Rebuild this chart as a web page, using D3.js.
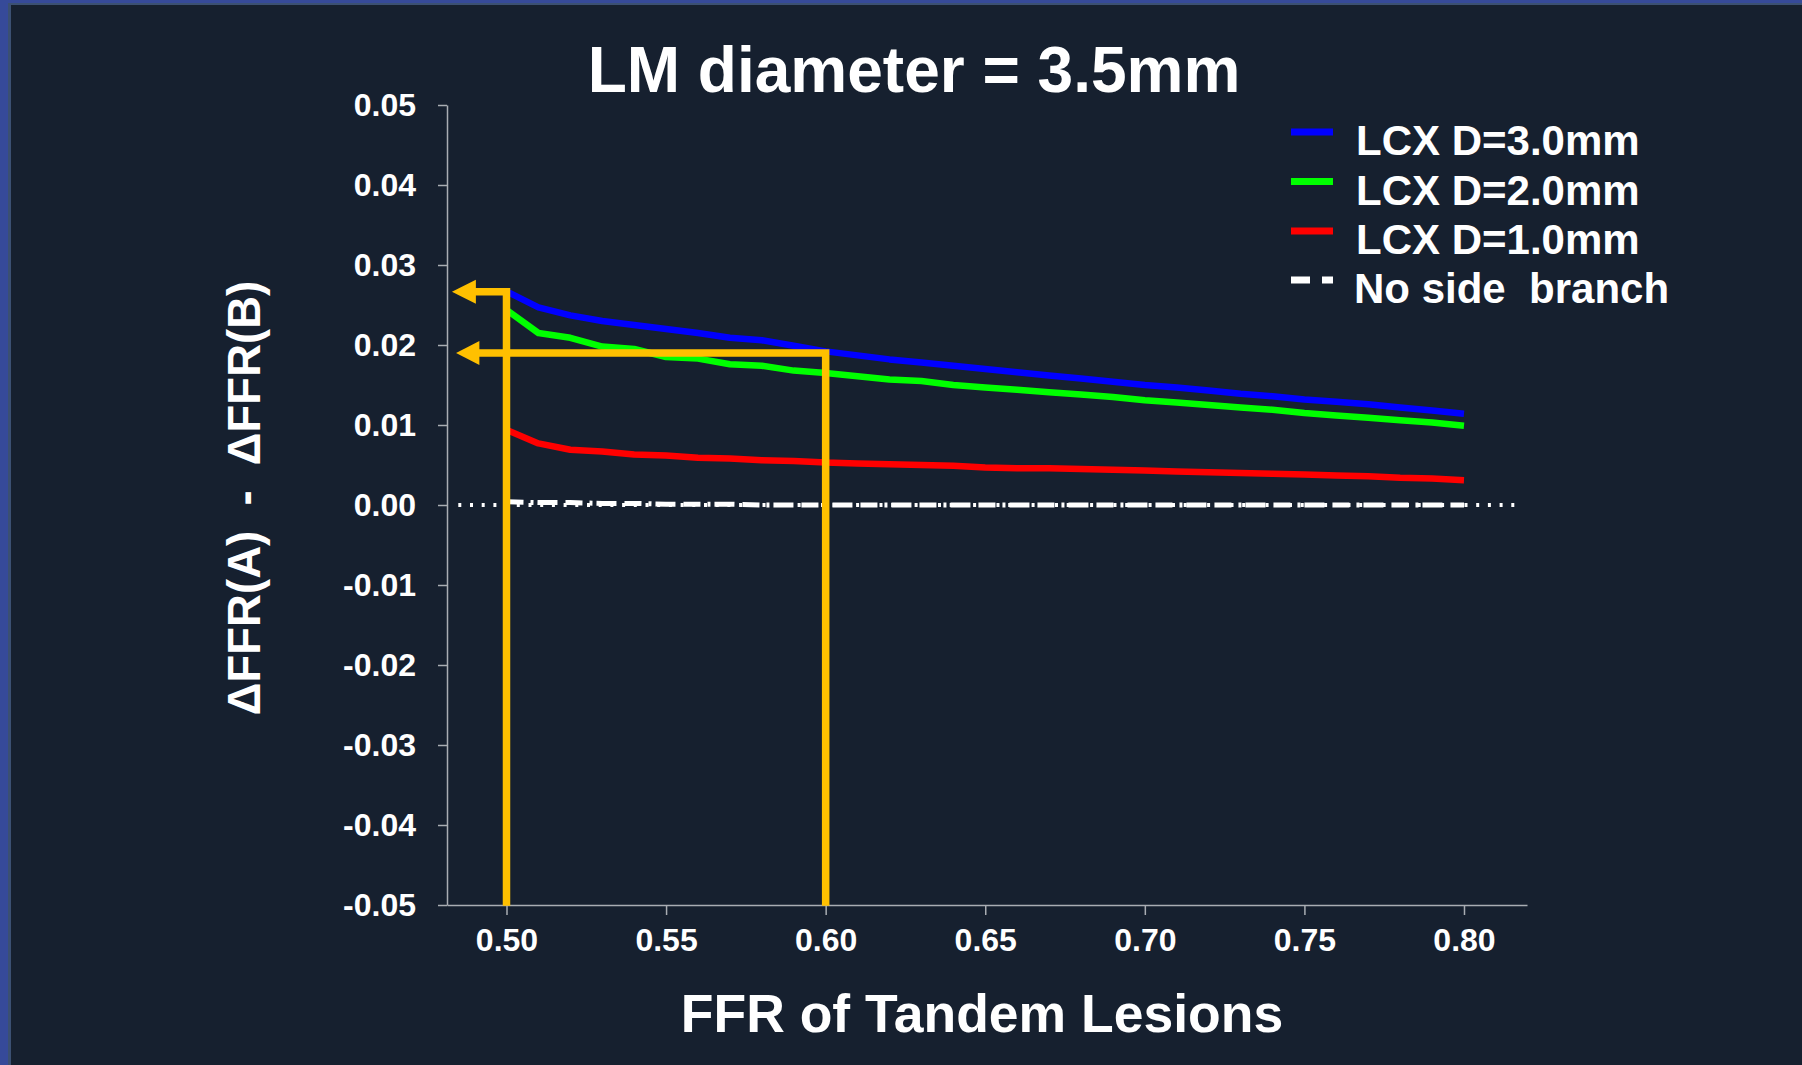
<!DOCTYPE html>
<html>
<head>
<meta charset="utf-8">
<script src="https://cdn.jsdelivr.net/npm/d3@7"></script>
<style>
  html, body { margin: 0; padding: 0; background: #16202f; }
  svg { display: block; }
  text { font-family: "Liberation Sans", Arial, sans-serif; font-weight: bold; fill: #ffffff; }
</style>
</head>
<body>
<svg id="chart" width="1802" height="1065"></svg>
<script>
// ---------- data ----------
const ffr = [0.50, 0.51, 0.52, 0.53, 0.54, 0.55, 0.56, 0.57, 0.58, 0.59, 0.60,
             0.61, 0.62, 0.63, 0.64, 0.65, 0.66, 0.67, 0.68, 0.69, 0.70,
             0.71, 0.72, 0.73, 0.74, 0.75, 0.76, 0.77, 0.78, 0.79, 0.80];
const lcx30 = [0.0267, 0.0247, 0.0237, 0.0230, 0.0225, 0.0220, 0.0215, 0.0209, 0.0206, 0.0199, 0.0192,
               0.0187, 0.0182, 0.0178, 0.0174, 0.0170, 0.0166, 0.0162, 0.0158, 0.0154, 0.0150,
               0.0147, 0.0143, 0.0139, 0.0136, 0.0132, 0.0129, 0.0126, 0.0122, 0.0118, 0.0114];
const lcx20 = [0.0244, 0.0215, 0.0209, 0.0198, 0.0195, 0.0185, 0.0183, 0.0176, 0.0174, 0.0168, 0.0165,
               0.0161, 0.0157, 0.0155, 0.0150, 0.0147, 0.0144, 0.0141, 0.0138, 0.0135, 0.0131,
               0.0128, 0.0125, 0.0122, 0.0119, 0.0115, 0.0112, 0.0109, 0.0106, 0.0103, 0.0099];
const lcx10 = [0.0094, 0.0077, 0.0069, 0.0067, 0.0063, 0.0062, 0.0059, 0.0058, 0.0056, 0.0055, 0.0053,
               0.0052, 0.0051, 0.0050, 0.0049, 0.0047, 0.0046, 0.0046, 0.0045, 0.0044, 0.0043,
               0.0042, 0.0041, 0.0040, 0.0039, 0.0038, 0.0037, 0.0036, 0.0034, 0.0033, 0.0031];
const noSide = [0.0004, 0.0003, 0.0003, 0.0002, 0.0002, 0.0001, 0.0001, 0.0001, 0.0000, 0.0000, 0.0000,
                0.0000, 0.0000, 0.0000, 0.0000, 0.0000, 0.0000, 0.0000, 0.0000, 0.0000, 0.0000,
                0.0000, 0.0000, 0.0000, 0.0000, 0.0000, 0.0000, 0.0000, 0.0000, 0.0000, 0.0000];
const zeroRefX = [0.4849, 0.8175];
const zeroRefY = [0, 0];

const xTicks = [0.50, 0.55, 0.60, 0.65, 0.70, 0.75, 0.80];
const yTicks = [0.05, 0.04, 0.03, 0.02, 0.01, 0.00, -0.01, -0.02, -0.03, -0.04, -0.05];

const seriesNames = ["LCX D=3.0mm", "LCX D=2.0mm", "LCX D=1.0mm", "No side  branch"];
const seriesColors = ["#0000ff", "#00ff00", "#ff0000", "#ffffff"];

// annotation (orange read-off arrows)
const annotX = [0.50, 0.60];
const annotY = [0.02666, 0.0190];
const arrowTipX = [0.4829, 0.4842];
const arrowBaseX = [0.4901, 0.4912];

const titleText = "LM diameter = 3.5mm";
const xTitle = "FFR of Tandem Lesions";
const yTitle = "\u0394FFR(A)  -  \u0394FFR(B)";

// ---------- layout ----------
const W = 1802, H = 1065;
const svg = d3.select("#chart");

// frame
svg.append("rect").attr("x", 0).attr("y", 0).attr("width", W).attr("height", H).attr("fill", "#364a99");
svg.append("rect").attr("x", 8).attr("y", 3).attr("width", W - 8).attr("height", H - 3).attr("fill", "#3b5072");
svg.append("rect").attr("x", 11).attr("y", 5).attr("width", W - 11).attr("height", H - 5).attr("fill", "#16202f");

const x = d3.scaleLinear().domain([0.48136, 0.81974]).range([447, 1527]);
const y = d3.scaleLinear().domain([-0.05, 0.05]).range([905, 105]);

const axisColor = "#a9adb3";

// y axis
const yAxis = svg.append("g").attr("transform", `translate(${x.range()[0]},0)`)
  .call(d3.axisLeft(y).tickValues(yTicks).tickSize(9).tickSizeOuter(0).tickPadding(22)
        .tickFormat(d3.format(".2f")));
yAxis.select(".domain").attr("stroke", axisColor).attr("stroke-width", 1.5);
yAxis.selectAll(".tick line").attr("stroke", axisColor).attr("stroke-width", 1.5);
yAxis.selectAll(".tick text").attr("font-size", 32).attr("fill", "#fff")
  .attr("font-family", "Liberation Sans, Arial, sans-serif").attr("font-weight", "bold")
  .text(d => d3.format(".2f")(d).replace("\u2212", "-"));

// x axis
const xAxis = svg.append("g").attr("transform", `translate(0,${y(-0.05)})`)
  .call(d3.axisBottom(x).tickValues(xTicks).tickSize(10).tickSizeOuter(0).tickPadding(13)
        .tickFormat(d3.format(".2f")));
xAxis.select(".domain").attr("stroke", axisColor).attr("stroke-width", 1.5);
xAxis.selectAll(".tick line").attr("stroke", axisColor).attr("stroke-width", 1.5);
xAxis.selectAll(".tick text").attr("font-size", 32).attr("fill", "#fff")
  .attr("font-family", "Liberation Sans, Arial, sans-serif").attr("font-weight", "bold");

// zero reference dotted line
svg.append("path")
  .attr("d", d3.line().x((d, i) => x(zeroRefX[i])).y(d => y(d))(zeroRefY))
  .attr("fill", "none").attr("stroke", "#ffffff").attr("stroke-width", 4)
  .attr("stroke-dasharray", "3,8.7");

// series lines
const line = d3.line().x((d, i) => x(ffr[i])).y(d => y(d));
const seriesData = [lcx30, lcx20, lcx10];
seriesData.forEach((s, k) => {
  svg.append("path").attr("d", line(s)).attr("fill", "none")
    .attr("stroke", seriesColors[k]).attr("stroke-width", 6.5)
    .attr("stroke-linejoin", "round");
});
svg.append("path").attr("d", line(noSide)).attr("fill", "none")
  .attr("stroke", "#ffffff").attr("stroke-width", 5)
  .attr("stroke-dasharray", "17,7,3,4,20,8");

// orange annotations
const orange = "#ffc000";
annotX.forEach((ax, i) => {
  const pts = [[ax, -0.0501], [ax, annotY[i]], [arrowBaseX[i], annotY[i]]];
  svg.append("path")
    .attr("d", d3.line().x(d => x(d[0])).y(d => y(d[1]))(pts))
    .attr("fill", "none").attr("stroke", orange).attr("stroke-width", 7.5)
    .attr("stroke-linejoin", "miter");
  const tip = [x(arrowTipX[i]), y(annotY[i])];
  const bx = x(arrowBaseX[i]) + 1;
  svg.append("path")
    .attr("d", `M${tip[0]},${tip[1]} L${bx},${tip[1] - 12} L${bx},${tip[1] + 12} Z`)
    .attr("fill", orange);
});

// titles
svg.append("text").attr("x", 914).attr("y", 92).attr("text-anchor", "middle")
  .attr("font-size", 64).text(titleText);
svg.append("text").attr("x", 982).attr("y", 1032).attr("text-anchor", "middle")
  .attr("font-size", 53.5).text(xTitle);
svg.append("text").attr("transform", "translate(260,498) rotate(-90)")
  .attr("text-anchor", "middle").attr("font-size", 45.5)
  .style("white-space", "pre").attr("xml:space", "preserve").text(yTitle);

// legend
const legendRowsY = [155, 204.5, 254, 303];
const legend = svg.append("g");
seriesNames.forEach((name, i) => {
  const ly = legendRowsY[i] - 23;
  const ln = legend.append("line").attr("x1", 1291).attr("x2", 1333)
    .attr("y1", ly).attr("y2", ly)
    .attr("stroke", seriesColors[i]).attr("stroke-width", 7);
  if (i === 3) ln.attr("stroke-dasharray", "19,12");
  legend.append("text").attr("x", i === 3 ? 1354 : 1356).attr("y", legendRowsY[i])
    .attr("font-size", 42).style("white-space", "pre").text(name);
});
</script>
</body>
</html>
